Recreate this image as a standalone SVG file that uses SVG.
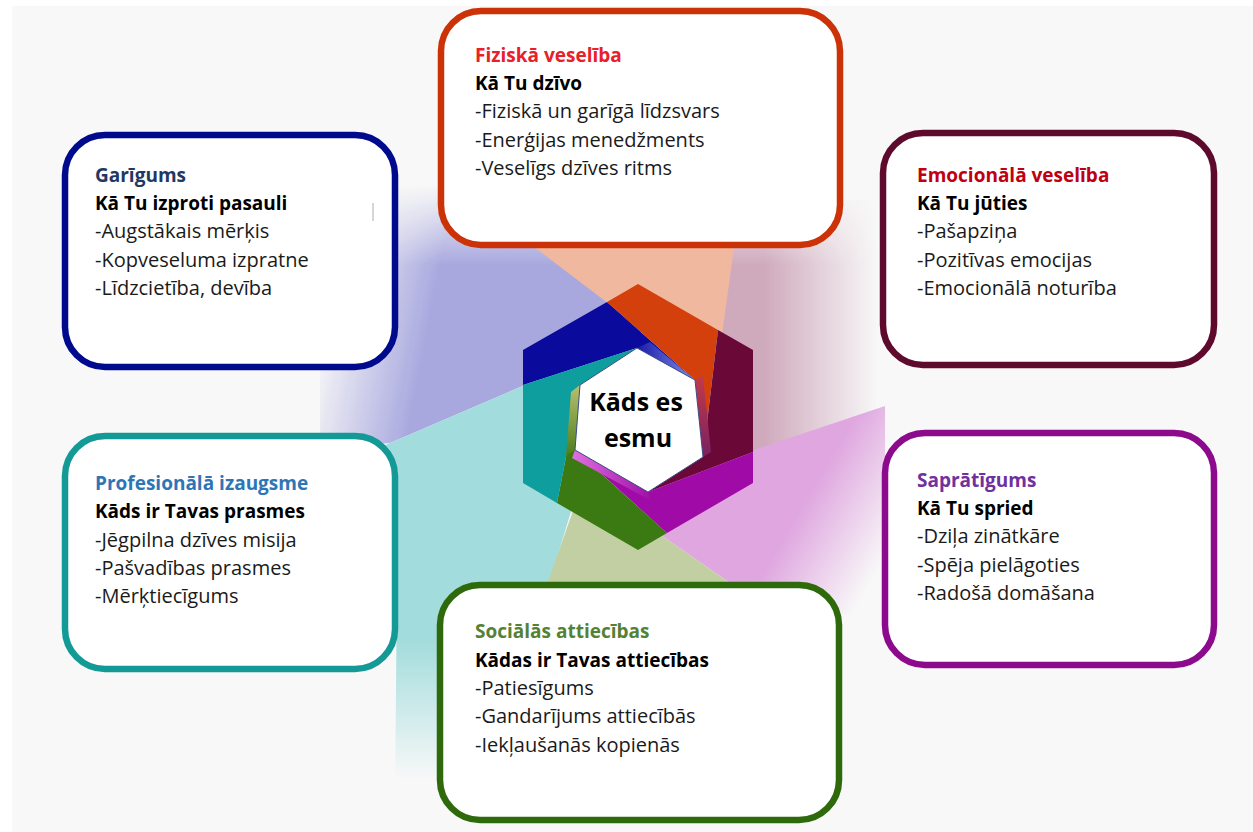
<svg xmlns="http://www.w3.org/2000/svg" width="1253" height="832" viewBox="0 0 1253 832">
<defs>
<style>
.box{fill:#ffffff;stroke-width:6.5}
.t{font-family:"Open Sans","Noto Sans",sans-serif;font-size:20px;fill:#1a1a1a}
.b{font-family:"Open Sans","Noto Sans",sans-serif;font-size:19px;font-weight:700;fill:#000000}
.c{font-family:"Open Sans","Noto Sans",sans-serif;font-size:25px;font-weight:700;fill:#000000}
</style>
<linearGradient id="gLav" gradientUnits="userSpaceOnUse" x1="325" y1="300" x2="430" y2="320">
<stop offset="0" stop-color="#a8a8df" stop-opacity="0"/>
<stop offset="1" stop-color="#a8a8df" stop-opacity="1"/>
</linearGradient>
<linearGradient id="gTopFade" gradientUnits="userSpaceOnUse" x1="0" y1="185" x2="0" y2="265">
<stop offset="0" stop-color="#000000"/>
<stop offset="1" stop-color="#ffffff"/>
</linearGradient>
<mask id="mTop" maskUnits="userSpaceOnUse" x="0" y="0" width="1253" height="832">
<rect x="0" y="0" width="1253" height="832" fill="url(#gTopFade)"/>
</mask>
<linearGradient id="gCyan" gradientUnits="userSpaceOnUse" x1="0" y1="640" x2="0" y2="780">
<stop offset="0" stop-color="#a3dcdc" stop-opacity="1"/>
<stop offset="1" stop-color="#a3dcdc" stop-opacity="0"/>
</linearGradient>
<linearGradient id="gMauve" gradientUnits="userSpaceOnUse" x1="765" y1="0" x2="878" y2="0">
<stop offset="0" stop-color="#cfaabd" stop-opacity="1"/>
<stop offset="1" stop-color="#cfaabd" stop-opacity="0"/>
</linearGradient>
<linearGradient id="gPink" gradientUnits="userSpaceOnUse" x1="805" y1="500" x2="890" y2="550">
<stop offset="0" stop-color="#dfa6df" stop-opacity="1"/>
<stop offset="1" stop-color="#dfa6df" stop-opacity="0"/>
</linearGradient>
<linearGradient id="gBlueBev" x1="0" y1="0" x2="1" y2="0">
<stop offset="0" stop-color="#1a1aa8"/>
<stop offset="1" stop-color="#7f8fe6"/>
</linearGradient>
<linearGradient id="gLeftBev" x1="0" y1="0" x2="0" y2="1">
<stop offset="0" stop-color="#b8c070"/>
<stop offset="1" stop-color="#4d7d1a"/>
</linearGradient>
<linearGradient id="gBotBev" x1="0" y1="0" x2="1" y2="0">
<stop offset="0" stop-color="#e070e0"/>
<stop offset="1" stop-color="#a010a8"/>
</linearGradient>
<linearGradient id="gRightBev" x1="0" y1="0" x2="0" y2="1">
<stop offset="0" stop-color="#c23a4a"/>
<stop offset="1" stop-color="#7a2060"/>
</linearGradient>
</defs>

<rect x="0" y="0" width="1253" height="832" fill="#ffffff"/>
<rect x="12" y="6" width="1241" height="826" fill="#f8f8f8"/>

<g id="beams">
<polygon points="320,180 430,180 560,250 643,330 637,337 390,443 320,450" fill="url(#gLav)" mask="url(#mTop)"/>
<polygon points="330,470 390,443 637,337 600,420 573,505 547,590 445,800 395,800 398,470" fill="url(#gCyan)"/>
<polygon points="725,200 880,200 880,411 700,472 722,335" fill="url(#gMauve)" mask="url(#mTop)"/>
<polygon points="650,480 700,468 885,406 885,620 745,600 740,590 632,515" fill="url(#gPink)"/>
<polygon points="575,505 632,515 740,590 545,590" fill="#c2cfa3"/>
<polygon points="525,240 735,240 722,335 643,330" fill="#f0b89e"/>
</g>

<g id="center">
<polygon points="523,385 523,350 607,302 695,380 637,348" fill="#0a0a9c"/>
<polygon points="607,302 638,284 718,330 703,457 695,380" fill="#d4400c"/>
<polygon points="718,330 753,350 753,452 648,492 703,457" fill="#6a0838"/>
<polygon points="753,452 753,483 667,533 575,450 648,492" fill="#a00aa6"/>
<polygon points="667,533 638,550 557,503 580,385 575,450" fill="#3b7a12"/>
<polygon points="557,503 523,483 523,385 637,348 580,385" fill="#0f9e9e"/>
<polygon points="650,342 695,380 637,348" fill="url(#gBlueBev)"/>
<polygon points="571,392 580,385 575,450 566,456" fill="url(#gLeftBev)"/>
<polygon points="575,450 648,492 650,500 572,458" fill="url(#gBotBev)"/>
<polygon points="695,380 703,376 711,452 703,457" fill="url(#gRightBev)"/>
<polygon points="637,348 695,380 703,457 648,492 575,450 580,385" fill="#ffffff" stroke="#3d4a86" stroke-width="1"/>
<text class="c" x="636" y="411" text-anchor="middle">Kāds es</text>
<text class="c" x="638" y="447" text-anchor="middle">esmu</text>
</g>

<g id="node-fiziska">
<rect class="box" x="441" y="11" width="399" height="234" rx="40" stroke="#cc3208"/>
<text class="b" x="475" y="62" style="fill:#e8202a">Fiziskā veselība</text>
<text class="b" x="475" y="90">Kā Tu dzīvo</text>
<text class="t" x="475" y="118">-Fiziskā un garīgā līdzsvars</text>
<text class="t" x="475" y="147">-Enerģijas menedžments</text>
<text class="t" x="475" y="175">-Veselīgs dzīves ritms</text>
</g>

<g id="node-garigums">
<rect class="box" x="65" y="135" width="330" height="232" rx="40" stroke="#000a8c"/>
<line x1="373" y1="203" x2="373" y2="221" stroke="#c8c8c8" stroke-width="1.5"/>
<text class="b" x="95" y="182" style="fill:#1f3864">Garīgums</text>
<text class="b" x="95" y="210">Kā Tu izproti pasauli</text>
<text class="t" x="95" y="238">-Augstākais mērķis</text>
<text class="t" x="95" y="267">-Kopveseluma izpratne</text>
<text class="t" x="95" y="295">-Līdzcietība, devība</text>
</g>

<g id="node-emocionala">
<rect class="box" x="883" y="133" width="331" height="232" rx="40" stroke="#5e0a2c"/>
<text class="b" x="917" y="182" style="fill:#c00010">Emocionālā veselība</text>
<text class="b" x="917" y="210">Kā Tu jūties</text>
<text class="t" x="917" y="238">-Pašapziņa</text>
<text class="t" x="917" y="267">-Pozitīvas emocijas</text>
<text class="t" x="917" y="295">-Emocionālā noturība</text>
</g>

<g id="node-profesionala">
<rect class="box" x="65" y="436" width="330" height="233" rx="40" stroke="#139a96"/>
<text class="b" x="95" y="490" style="fill:#2e75b6">Profesionālā izaugsme</text>
<text class="b" x="95" y="518">Kāds ir Tavas prasmes</text>
<text class="t" x="95" y="547">-Jēgpilna dzīves misija</text>
<text class="t" x="95" y="575">-Pašvadības prasmes</text>
<text class="t" x="95" y="603">-Mērķtiecīgums</text>
</g>

<g id="node-sapratigums">
<rect class="box" x="885" y="433" width="329" height="232" rx="40" stroke="#8c0a8c"/>
<text class="b" x="917" y="487" style="fill:#7030a0">Saprātīgums</text>
<text class="b" x="917" y="515">Kā Tu spried</text>
<text class="t" x="917" y="543">-Dziļa zinātkāre</text>
<text class="t" x="917" y="572">-Spēja pielāgoties</text>
<text class="t" x="917" y="600">-Radošā domāšana</text>
</g>

<g id="node-socialas">
<rect class="box" x="440" y="585" width="399" height="235" rx="40" stroke="#2e6a0c"/>
<text class="b" x="475" y="638" style="fill:#548235">Sociālās attiecības</text>
<text class="b" x="475" y="667">Kādas ir Tavas attiecības</text>
<text class="t" x="475" y="695">-Patiesīgums</text>
<text class="t" x="475" y="723">-Gandarījums attiecībās</text>
<text class="t" x="475" y="752">-Iekļaušanās kopienās</text>
</g>
</svg>
